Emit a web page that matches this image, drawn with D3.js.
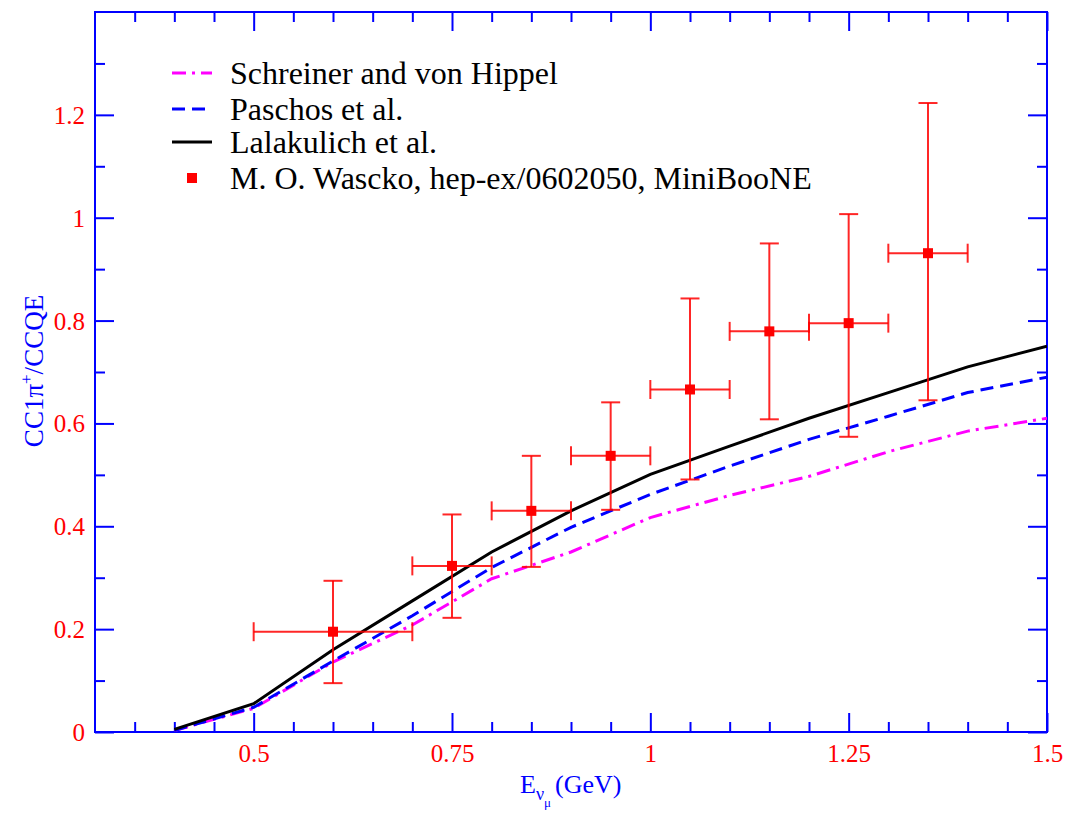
<!DOCTYPE html>
<html>
<head>
<meta charset="utf-8">
<script src="https://cdn.jsdelivr.net/npm/d3@7"></script>
<style>
  body { margin: 0; background: #fff; }
  svg { display: block; }
</style>
</head>
<body>
<svg id="chart" width="1070" height="815"></svg>
<script>
// ---- data ----
const xTicks = [0.5, 0.75, 1, 1.25, 1.5];
const xTickLabels = ["0.5", "0.75", "1", "1.25", "1.5"];
const yTicks = [0, 0.2, 0.4, 0.6, 0.8, 1, 1.2];
const yTickLabels = ["0", "0.2", "0.4", "0.6", "0.8", "1", "1.2"];

const curveE = [0.4, 0.5, 0.6, 0.7, 0.8, 0.9, 1.0, 1.1, 1.2, 1.3, 1.4, 1.5];
const schreiner = [0.003, 0.046, 0.136, 0.208, 0.298, 0.350, 0.417, 0.460, 0.497, 0.545, 0.585, 0.610];
const paschos   = [0.003, 0.048, 0.138, 0.226, 0.320, 0.398, 0.462, 0.517, 0.569, 0.614, 0.660, 0.690];
const lalakulich= [0.005, 0.055, 0.160, 0.255, 0.350, 0.430, 0.501, 0.556, 0.610, 0.660, 0.710, 0.750];

const dataE    = [0.6, 0.75, 0.85, 0.95, 1.05, 1.15, 1.25, 1.35];
const dataELo  = [0.5, 0.7, 0.8, 0.9, 1.0, 1.1, 1.2, 1.3];
const dataEHi  = [0.7, 0.8, 0.9, 1.0, 1.1, 1.2, 1.3, 1.4];
const dataY    = [0.195, 0.323, 0.430, 0.537, 0.666, 0.779, 0.795, 0.931];
const dataYLo  = [0.095, 0.222, 0.321, 0.432, 0.491, 0.608, 0.574, 0.645];
const dataYHi  = [0.294, 0.423, 0.537, 0.641, 0.843, 0.950, 1.007, 1.223];

const legendLabels = ["Schreiner and von Hippel", "Paschos et al.", "Lalakulich et al.", "M. O. Wascko, hep-ex/0602050, MiniBooNE"];

// ---- layout ----
const FONT = "'Liberation Serif', Tinos, 'Times New Roman', Times, 'DejaVu Serif', serif";
const L = 95, R = 1047, T = 12, B = 732;
const svg = d3.select("#chart");
const x = d3.scaleLinear().domain([0.3, 1.5]).range([L, R]);
const y = d3.scaleLinear().domain([0, 1.4]).range([B, T]);

const axisColor = "#0000ff";
const red = "#ff0000";

const xMinor = d3.range(0.35, 1.5001, 0.05).filter(v => !xTicks.some(t => Math.abs(t - v) < 1e-6));
const yMinor = d3.range(0.1, 1.4001, 0.2);

function tickGroup(axisGen, transform) {
  const g = svg.append("g").attr("transform", transform).call(axisGen);
  g.select(".domain").remove();
  g.selectAll("line").attr("stroke", axisColor).attr("stroke-width", 2);
  return g;
}

const gxb = tickGroup(d3.axisBottom(x).tickValues(xTicks).tickSize(-19).tickPadding(12)
  .tickFormat((d, i) => xTickLabels[i]), `translate(0,${B})`);
gxb.selectAll("text").attr("fill", red).style("font-size", "25px").style("font-family", FONT);
tickGroup(d3.axisBottom(x).tickValues(xMinor).tickSize(-10).tickFormat(""), `translate(0,${B})`);
tickGroup(d3.axisTop(x).tickValues(xTicks).tickSize(-19).tickFormat(""), `translate(0,${T})`);
tickGroup(d3.axisTop(x).tickValues(xMinor).tickSize(-10).tickFormat(""), `translate(0,${T})`);
const gyl = tickGroup(d3.axisLeft(y).tickValues(yTicks).tickSize(-19).tickPadding(10)
  .tickFormat((d, i) => yTickLabels[i]), `translate(${L},0)`);
gyl.selectAll("text").attr("fill", red).style("font-size", "25px").style("font-family", FONT)
  .attr("dy", "0.34em");
tickGroup(d3.axisLeft(y).tickValues(yMinor).tickSize(-10).tickFormat(""), `translate(${L},0)`);
tickGroup(d3.axisRight(y).tickValues(yTicks).tickSize(-19).tickFormat(""), `translate(${R},0)`);
tickGroup(d3.axisRight(y).tickValues(yMinor).tickSize(-10).tickFormat(""), `translate(${R},0)`);

svg.append("rect").attr("x", L).attr("y", T).attr("width", R - L).attr("height", B - T)
  .attr("fill", "none").attr("stroke", axisColor).attr("stroke-width", 2);

// curves
const line = d3.line().x(d => x(d[0])).y(d => y(d[1]));
const series = [
  { vals: schreiner, color: "#ff00ff", dash: "14,6,3,6" },
  { vals: paschos, color: "#0000ff", dash: "13,7" },
  { vals: lalakulich, color: "#000000", dash: null }
];
svg.append("clipPath").attr("id", "clip").append("rect")
  .attr("x", L).attr("y", T).attr("width", R - L).attr("height", B - T);
series.forEach(s => {
  svg.append("path").datum(curveE.map((e, i) => [e, s.vals[i]]))
    .attr("d", line).attr("fill", "none").attr("stroke", s.color)
    .attr("stroke-width", 3).attr("stroke-dasharray", s.dash)
    .attr("clip-path", "url(#clip)");
});

// data points with error bars
const cap = 9.5;
const pts = dataE.map((e, i) => ({ e, lo: dataELo[i], hi: dataEHi[i], v: dataY[i], vlo: dataYLo[i], vhi: dataYHi[i] }));
const gp = svg.append("g").attr("stroke", red).attr("stroke-width", 2).attr("stroke-opacity", 0.85);
pts.forEach(p => {
  gp.append("line").attr("x1", x(p.lo)).attr("x2", x(p.hi)).attr("y1", y(p.v)).attr("y2", y(p.v));
  gp.append("line").attr("x1", x(p.e)).attr("x2", x(p.e)).attr("y1", y(p.vlo)).attr("y2", y(p.vhi));
  gp.append("line").attr("x1", x(p.lo)).attr("x2", x(p.lo)).attr("y1", y(p.v) - cap).attr("y2", y(p.v) + cap);
  gp.append("line").attr("x1", x(p.hi)).attr("x2", x(p.hi)).attr("y1", y(p.v) - cap).attr("y2", y(p.v) + cap);
  gp.append("line").attr("x1", x(p.e) - cap).attr("x2", x(p.e) + cap).attr("y1", y(p.vlo)).attr("y2", y(p.vlo));
  gp.append("line").attr("x1", x(p.e) - cap).attr("x2", x(p.e) + cap).attr("y1", y(p.vhi)).attr("y2", y(p.vhi));
});
svg.append("g").selectAll("rect").data(pts).join("rect")
  .attr("x", d => x(d.e) - 5).attr("y", d => y(d.v) - 5)
  .attr("width", 10).attr("height", 10).attr("fill", red);

// legend
const legY = [73, 109, 142, 178];
const lg = svg.append("g");
series.forEach((s, i) => {
  lg.append("line").attr("x1", 172).attr("x2", 212).attr("y1", legY[i]).attr("y2", legY[i])
    .attr("stroke", s.color).attr("stroke-width", 3).attr("stroke-dasharray", s.dash);
});
lg.append("rect").attr("x", 187).attr("y", legY[3] - 5).attr("width", 10).attr("height", 10).attr("fill", red);
legendLabels.forEach((t, i) => {
  lg.append("text").attr("x", 230).attr("y", legY[i]).attr("dy", "0.33em")
    .style("font-size", "32px").style("font-family", FONT).attr("fill", "#000").text(t);
});

// axis titles
const xt = svg.append("text").attr("x", 520).attr("y", 793).attr("fill", axisColor)
  .style("font-size", "26px").style("font-family", FONT);
xt.append("tspan").text("E");
xt.append("tspan").style("font-size", "18px").attr("dy", 7).text("ν");
xt.append("tspan").style("font-size", "13px").attr("dy", 7).text("μ");
xt.append("tspan").style("font-size", "26px").attr("x", 555).attr("dy", -14).text("(GeV)");

const yt = svg.append("text").attr("transform", "translate(43,371) rotate(-90)")
  .attr("text-anchor", "middle").attr("fill", axisColor)
  .style("font-size", "27px").style("font-family", FONT);
yt.append("tspan").text("CC1π");
yt.append("tspan").style("font-size", "17px").attr("dy", -11).text("+");
yt.append("tspan").attr("dy", 11).text("/CCQE");
</script>
</body>
</html>
